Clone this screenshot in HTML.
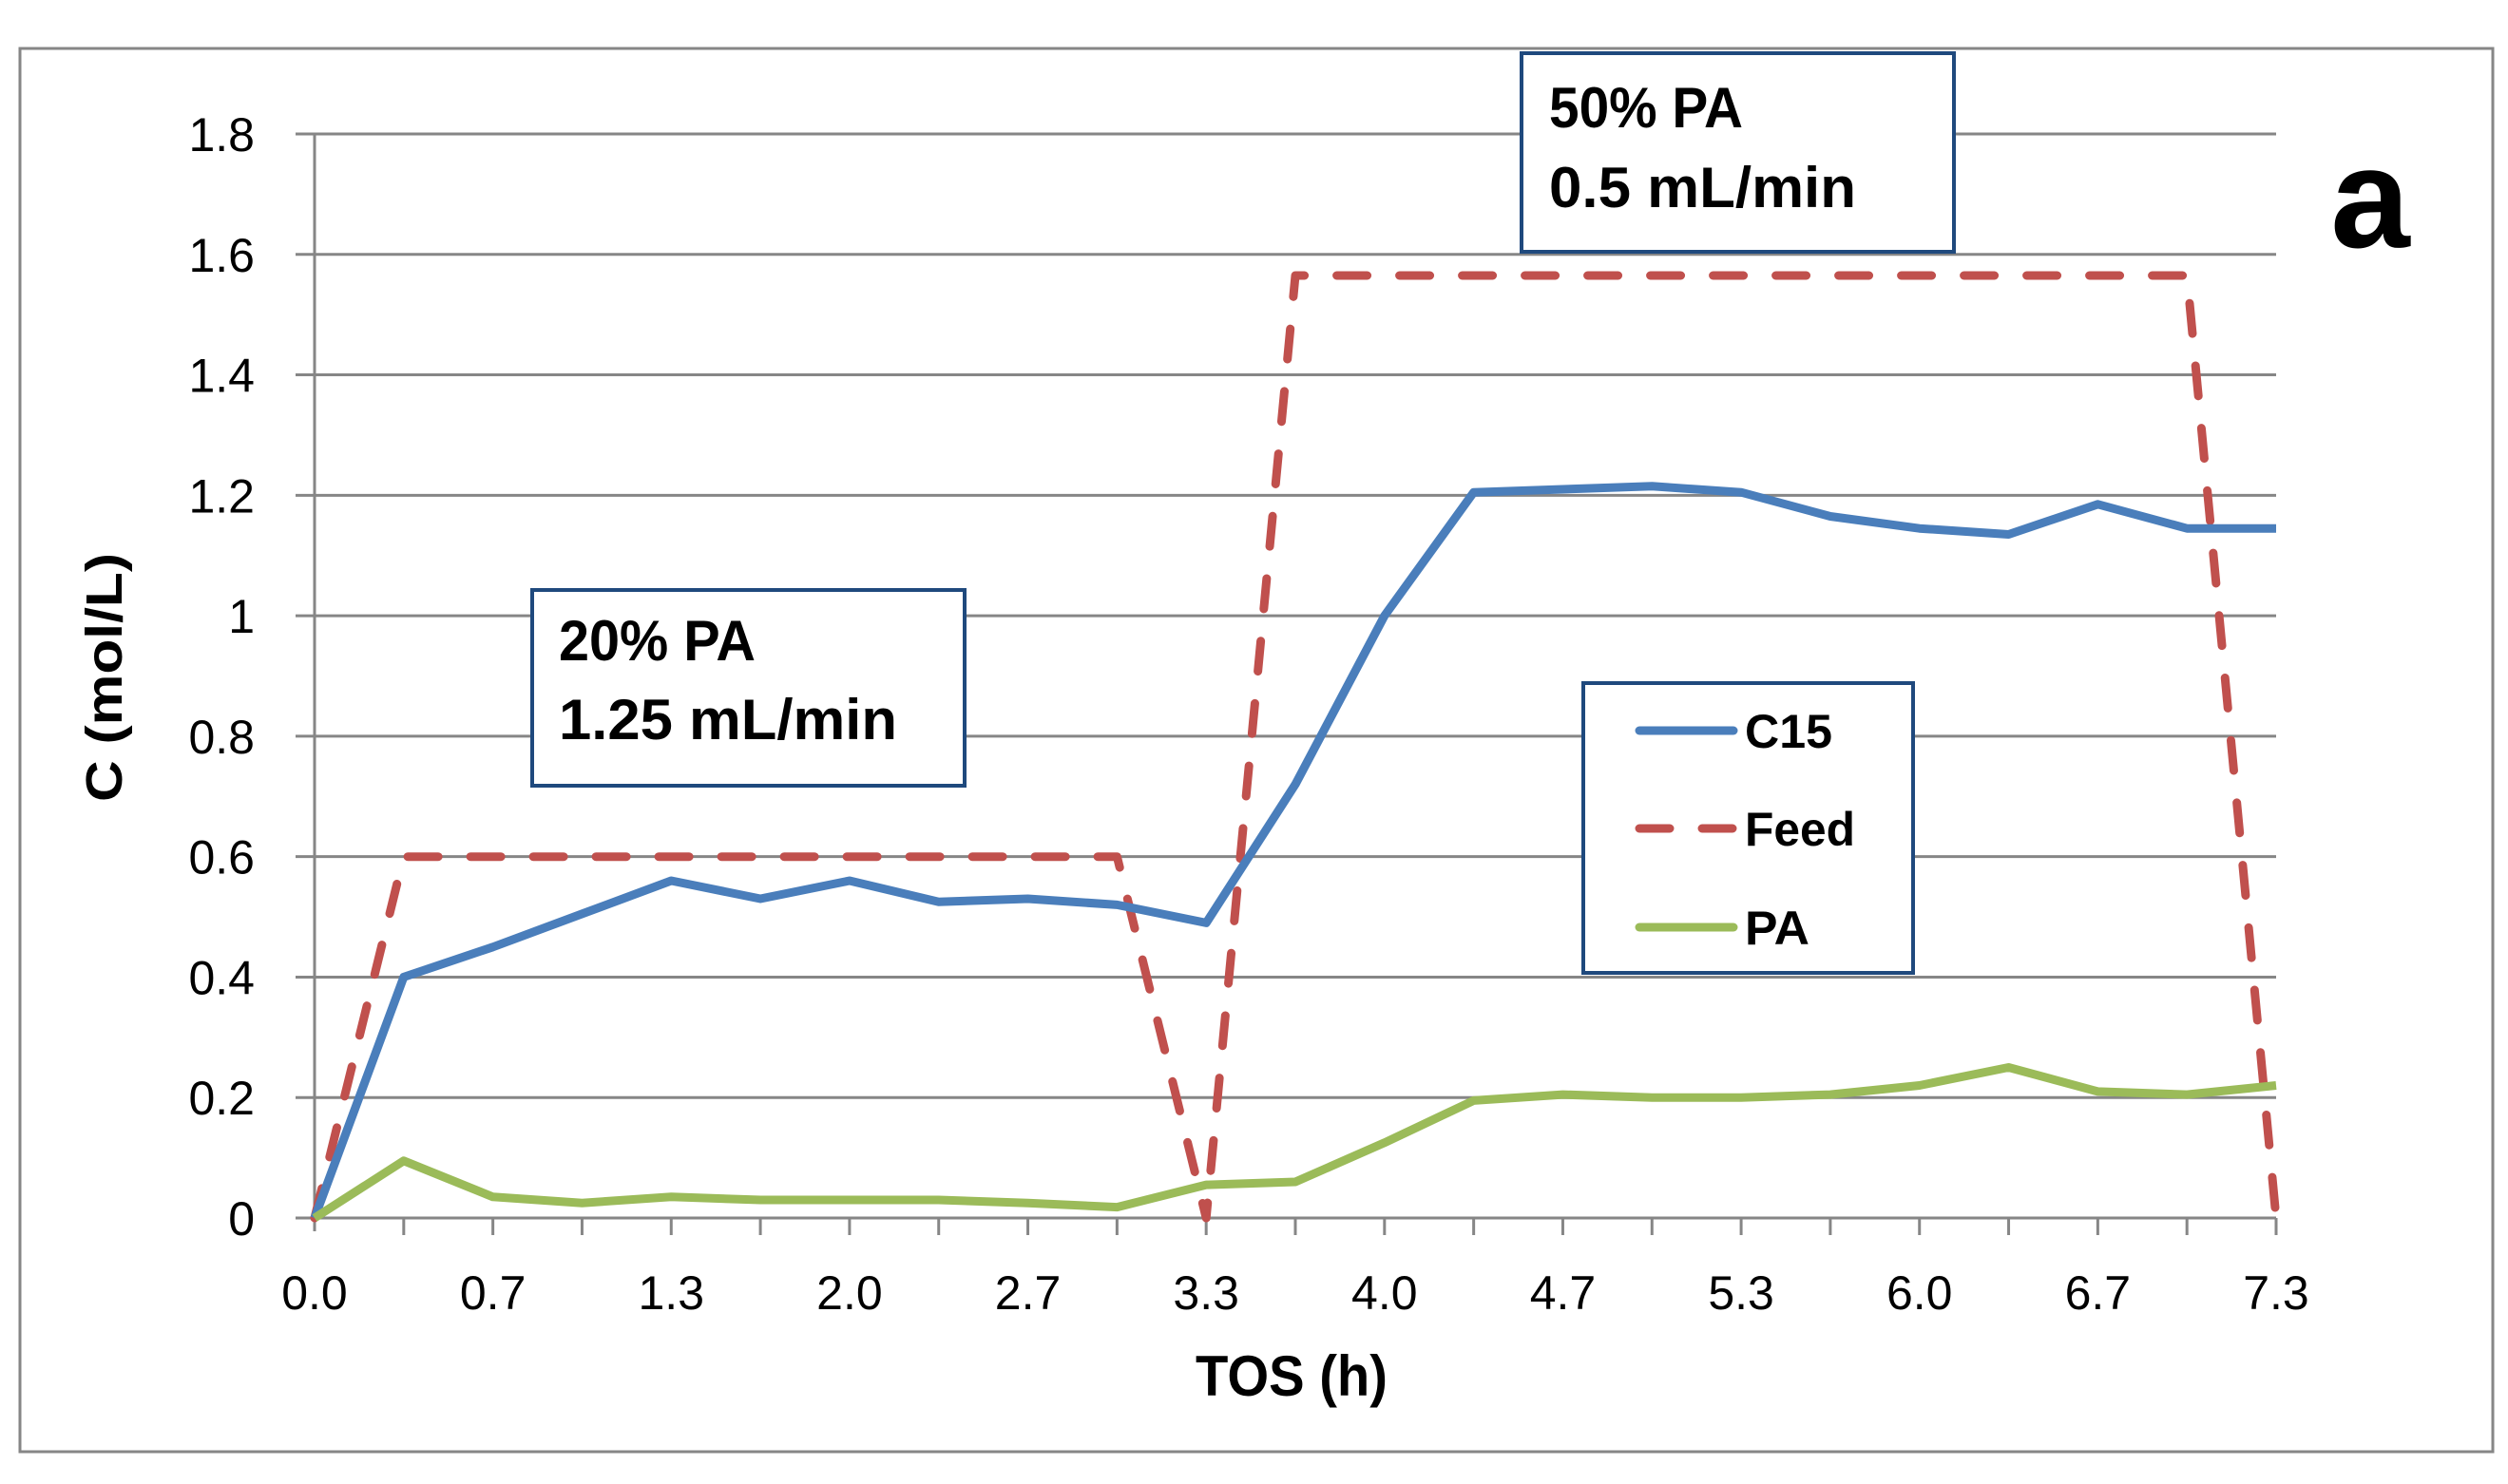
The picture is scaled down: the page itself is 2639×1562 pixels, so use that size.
<!DOCTYPE html>
<html><head><meta charset="utf-8"><style>
html,body{margin:0;padding:0;background:#fff;}
svg{display:block;}
text{font-family:"Liberation Sans",sans-serif;}
</style></head><body>
<svg id="chart" width="2639" height="1562" viewBox="0 0 2639 1562" xmlns="http://www.w3.org/2000/svg">
<rect x="21" y="51" width="2602" height="1477" fill="#fff" stroke="#868686" stroke-width="3"/>
<g id="grid"></g>
<g id="axes"></g>
<g id="series"></g>
<text x="0" y="0" transform="translate(128,713) rotate(-90)" text-anchor="middle" font-size="54" font-weight="bold" textLength="262" lengthAdjust="spacingAndGlyphs">C (mol/L)</text>
<text x="1359" y="1469" text-anchor="middle" font-size="60" font-weight="bold" textLength="202" lengthAdjust="spacingAndGlyphs">TOS (h)</text>
<g>
<rect x="560" y="621" width="455" height="206" fill="#fff" stroke="#1f497d" stroke-width="4"/>
<text x="588" y="695" font-size="60" font-weight="bold" textLength="207" lengthAdjust="spacingAndGlyphs">20% PA</text>
<text x="588" y="778" font-size="60" font-weight="bold" textLength="356" lengthAdjust="spacingAndGlyphs">1.25 mL/min</text>
</g>
<g>
<rect x="1601" y="56" width="455" height="209" fill="#fff" stroke="#1f497d" stroke-width="4"/>
<text x="1630" y="134" font-size="60" font-weight="bold" textLength="204" lengthAdjust="spacingAndGlyphs">50% PA</text>
<text x="1630" y="218" font-size="60" font-weight="bold" textLength="323" lengthAdjust="spacingAndGlyphs">0.5 mL/min</text>
</g>
<text x="2494" y="260" text-anchor="middle" font-size="150" font-weight="bold">a</text>
<g>
<rect x="1666" y="719" width="347" height="305" fill="#fff" stroke="#1f497d" stroke-width="4"/>
<line x1="1725" y1="769" x2="1824" y2="769" stroke="#4a7ebb" stroke-width="9" stroke-linecap="round"/>
<text x="1836" y="787" font-size="50" font-weight="bold" textLength="92" lengthAdjust="spacingAndGlyphs">C15</text>
<line x1="1725" y1="872" x2="1824" y2="872" stroke="#c0504d" stroke-width="9" stroke-linecap="round" stroke-dasharray="32,34"/>
<text x="1836" y="890" font-size="50" font-weight="bold" textLength="116" lengthAdjust="spacingAndGlyphs">Feed</text>
<line x1="1725" y1="976" x2="1824" y2="976" stroke="#9bbb59" stroke-width="9" stroke-linecap="round"/>
<text x="1836" y="994" font-size="50" font-weight="bold" textLength="68" lengthAdjust="spacingAndGlyphs">PA</text>
</g>
</svg>
<script>
const xLabels = ["0.0","0.7","1.3","2.0","2.7","3.3","4.0","4.7","5.3","6.0","6.7","7.3"];
const yTicks = [0,0.2,0.4,0.6,0.8,1,1.2,1.4,1.6,1.8];
const yTickLabels = ["0","0.2","0.4","0.6","0.8","1","1.2","1.4","1.6","1.8"];
const timeIdx = [0,1,2,3,4,5,6,7,8,9,10,11,12,13,14,15,16,17,18,19,20,21,22];
const c15 = [0,0.40,0.45,0.505,0.56,0.53,0.56,0.525,0.53,0.52,0.49,0.72,1.0,1.205,1.21,1.215,1.205,1.165,1.145,1.135,1.185,1.145,1.145];
const pa = [0,0.095,0.035,0.025,0.035,0.03,0.03,0.03,0.025,0.018,0.055,0.06,0.125,0.195,0.205,0.2,0.2,0.205,0.22,0.25,0.21,0.205,0.22];
const feedIdx = [0,1,9,10,11,21,22];
const feedVals = [0,0.6,0.6,0,1.565,1.565,0];

const NS = "http://www.w3.org/2000/svg";
const X0 = 331, X1 = 2395, Y0 = 1282, Y1 = 141;
const nIntervals = 22, yMax = 1.8;
function xs(i){ return X0 + (X1 - X0) * i / nIntervals; }
function ys(v){ return Y0 - (Y0 - Y1) * v / yMax; }
function mk(tag, attrs, parent){ const e = document.createElementNS(NS, tag); for (const k in attrs) e.setAttribute(k, attrs[k]); parent.appendChild(e); return e; }

const grid = document.getElementById('grid');
const axes = document.getElementById('axes');
const series = document.getElementById('series');

yTicks.forEach((v, k) => {
  const y = ys(v);
  if (v > 0) {
    const g = mk('line', {x1: X0 - 20, y1: y, x2: X1, y2: y, stroke: '#868686', 'stroke-width': 3}, grid);
    
    
  }
  const t = mk('text', {x: 268, y: y + 18, 'text-anchor': 'end', 'font-size': 50}, axes);
  t.textContent = yTickLabels[k];
  
  
});

const yAxis = mk('line', {x1: X0, y1: Y1, x2: X0, y2: Y0 + 14, stroke: '#868686', 'stroke-width': 3}, axes);


const xAxis = mk('line', {x1: X0 - 20, y1: Y0, x2: X1, y2: Y0, stroke: '#868686', 'stroke-width': 3}, axes);



for (let i = 1; i <= nIntervals; i++) {
  const tk = mk('line', {x1: xs(i), y1: Y0, x2: xs(i), y2: Y0 + 18, stroke: '#868686', 'stroke-width': 3}, axes);
  
  
}
xLabels.forEach((lab, k) => {
  const t = mk('text', {x: xs(k * 2), y: 1378, 'text-anchor': 'middle', 'font-size': 50}, axes);
  t.textContent = lab;
  
  
});

function pts(idx, vals){ return idx.map((i, k) => xs(i).toFixed(1) + ',' + ys(vals[k]).toFixed(1)).join(' '); }

const feedLine = mk('polyline', {points: pts(feedIdx, feedVals), fill: 'none', stroke: '#c0504d', 'stroke-width': 9, 'stroke-dasharray': '32,34', 'stroke-linecap': 'round', 'stroke-linejoin': 'round'}, series);


const c15Line = mk('polyline', {points: pts(timeIdx, c15), fill: 'none', stroke: '#4a7ebb', 'stroke-width': 9, 'stroke-linejoin': 'round'}, series);


const paLine = mk('polyline', {points: pts(timeIdx, pa), fill: 'none', stroke: '#9bbb59', 'stroke-width': 9, 'stroke-linejoin': 'round'}, series);


</script>
</body></html>
